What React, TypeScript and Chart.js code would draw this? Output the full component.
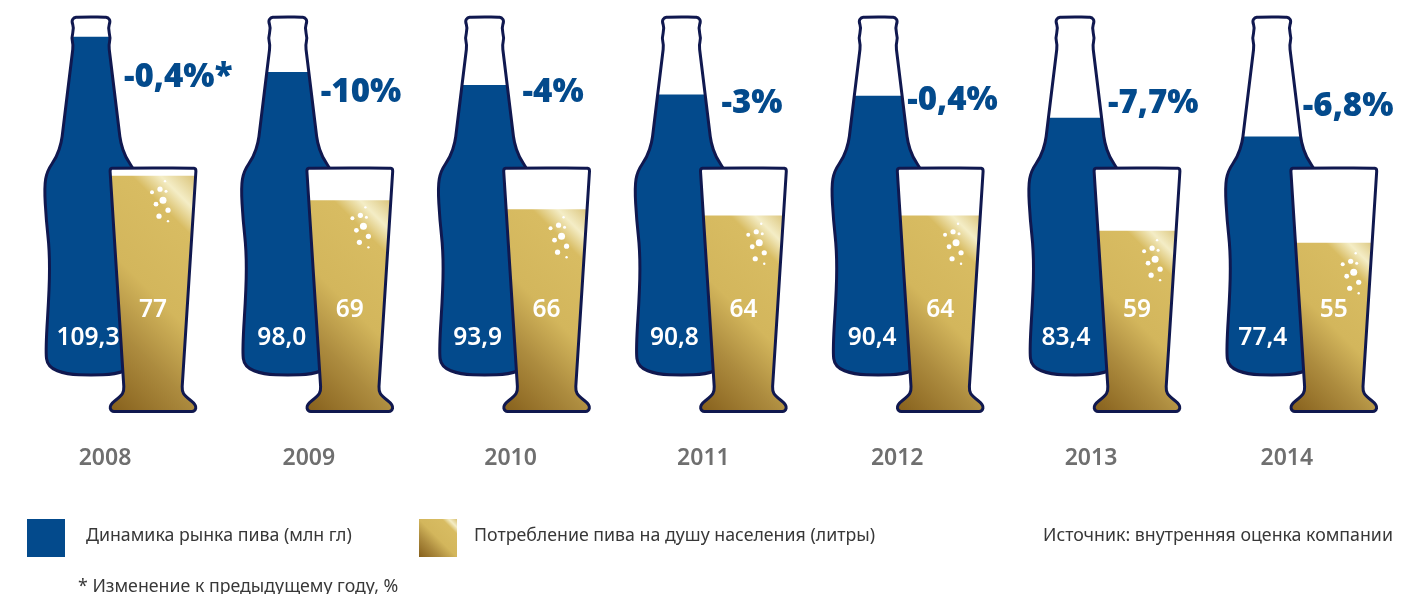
import React, { useEffect, useRef } from "react";
import { Chart, registerables } from "chart.js";

Chart.register(...registerables);

// Market and consumption figures by year
const years = ["2008", "2009", "2010", "2011", "2012", "2013", "2014"];
const marketVolume = [109.3, 98.0, 93.9, 90.8, 90.4, 83.4, 77.4];
const perCapita = [77, 69, 66, 64, 64, 59, 55];
const yearlyChange = ["-0,4%*", "-10%", "-4%", "-3%", "-0,4%", "-7,7%", "-6,8%"];

const marketLabel = "Динамика рынка пива (млн гл)";
const perCapitaLabel = "Потребление пива на душу населения (литры)";
const sourceNote = "Источник: внутренняя оценка компании";
const footNote = "* Изменение к предыдущему году, %";

// Per-column placement tweaks for the annotations
const yearNudge = [-17, -10, -5, -9, -12, -15, -16];
const marketLabelNudge = [-3, -6, -7, -7, -6, -9, -9];
const changeDx = [2, 2, 7, 9, -2, 2, 0];
const changeY = [78, 93, 93, 104, 101, 104, 107];

const FONT = '"Noto Sans", sans-serif';
const BLUE = "#034a8c";
const OUTLINE = "#10184f";
const BOTTLE_SHIFT = -31;
const GLASS_SHIFT = 31;

type P = [number, number];

// Half outlines, from the top centre to the bottom centre, mirrored around each column
const bottleHalf: P[] = [
  [0, 17], [-13, 17], [-17, 17.5], [-19.5, 21], [-17, 28], [-19.5, 38], [-17.7, 45], [-18.8, 54],
  [-28.2, 131], [-29.5, 142], [-34.3, 157], [-44, 171], [-46.7, 187], [-44.8, 220], [-41.5, 250],
  [-41.5, 287], [-45.5, 350], [-43.5, 367], [-24, 374.5], [0, 375],
];
const glassHalf: P[] = [
  [0, 168], [-39, 168], [-43, 168.5], [-42.8, 174], [-29.4, 382], [-29, 391], [-32, 396],
  [-43.5, 405], [-42, 411.5], [-36, 411.5], [0, 411.5],
];
const bubbles: [number, number, number][] = [
  [12, 5, 1.2], [7, 13, 2.6], [-1, 16, 2], [13, 15, 1.5], [10, 24, 3.5], [3, 28, 2.4], [15, 34, 2.6], [6, 40, 2.6], [15, 45, 1.2],
];

function tracePath(ctx: CanvasRenderingContext2D, half: P[], cx: number) {
  const pts: P[] = [...half, ...half.slice(0, -1).reverse().map(([x, y]) => [-x, y] as P)];
  ctx.moveTo(cx + pts[0][0], pts[0][1]);
  for (let i = 1; i < pts.length - 1; i++) {
    const mx = (pts[i][0] + pts[i + 1][0]) / 2;
    const my = (pts[i][1] + pts[i + 1][1]) / 2;
    ctx.quadraticCurveTo(cx + pts[i][0], pts[i][1], cx + mx, my);
  }
  ctx.lineTo(cx + pts[pts.length - 1][0], pts[pts.length - 1][1]);
  ctx.closePath();
}

function goldGradient(ctx: CanvasRenderingContext2D, x0: number, y0: number, x1: number, y1: number) {
  // The gradient runs along the diagonal so the pale streak falls from upper left to lower right
  const w = x1 - x0;
  const h = y0 - y1;
  const k = (w + h) / 2;
  const g = ctx.createLinearGradient(x0, y0, x0 + k, y0 - k);
  g.addColorStop(0, "#86601c");
  g.addColorStop(0.28, "#ad8c3f");
  g.addColorStop(0.5, "#d3b65c");
  g.addColorStop(0.8, "#d8bc62");
  g.addColorStop(0.89, "#f4edc6");
  g.addColorStop(1, "#d9c277");
  return g;
}

const bottleGlassPlugin = {
  id: "bottleGlass",
  beforeDatasetDraw(chart: any, args: any) {
    const { ctx } = chart;
    const meta = args.meta;
    const half = args.index === 0 ? bottleHalf : glassHalf;
    const shift = args.index === 0 ? BOTTLE_SHIFT : GLASS_SHIFT;
    ctx.save();
    ctx.beginPath();
    meta.data.forEach((bar: any) => tracePath(ctx, half, bar.x + shift));
    ctx.fillStyle = "#ffffff";
    ctx.fill();
    ctx.clip();
  },
  afterDatasetDraw(chart: any, args: any) {
    const { ctx } = chart;
    const meta = args.meta;
    ctx.restore();
    const half = args.index === 0 ? bottleHalf : glassHalf;
    const shift = args.index === 0 ? BOTTLE_SHIFT : GLASS_SHIFT;
    if (args.index === 1) {
      // Foam bubbles drift to the right as the level drops
      ctx.fillStyle = "#ffffff";
      meta.data.forEach((bar: any, i: number) => {
        const drop = 77 - perCapita[i];
        bubbles.forEach(([dx, dy, r]) => {
          ctx.beginPath();
          ctx.arc(bar.x + shift + dx + drop * 0.45, bar.y + dy + drop * 0.23, r, 0, Math.PI * 2);
          ctx.fill();
        });
      });
    }
    ctx.strokeStyle = OUTLINE;
    ctx.lineWidth = 3;
    ctx.lineJoin = "round";
    meta.data.forEach((bar: any) => {
      ctx.beginPath();
      tracePath(ctx, half, bar.x + shift);
      ctx.stroke();
    });
  },
  beforeDraw(chart: any) {
    // Year labels sit slightly off the column centres
    const items = chart.scales.x.getLabelItems();
    if (!items.__nudged) {
      items.forEach((it: any, i: number) => {
        it.options.translation[0] += yearNudge[i];
      });
      items.__nudged = true;
    }
  },
  afterDatasetsDraw(chart: any) {
    const { ctx } = chart;
    const bottleBars = chart.getDatasetMeta(0).data;
    const glassBars = chart.getDatasetMeta(1).data;
    ctx.save();
    ctx.textBaseline = "middle";
    ctx.textAlign = "center";
    ctx.fillStyle = "#ffffff";
    ctx.font = `600 24.5px ${FONT}`;
    bottleBars.forEach((bar: any, i: number) => {
      ctx.fillText(marketVolume[i].toFixed(1).replace(".", ","), bar.x + BOTTLE_SHIFT + marketLabelNudge[i], 338);
      ctx.fillText(String(perCapita[i]), glassBars[i].x + GLASS_SHIFT, 310);
    });
    ctx.textAlign = "left";
    ctx.fillStyle = BLUE;
    ctx.font = `900 33px ${FONT}`;
    bottleBars.forEach((bar: any, i: number) => {
      ctx.fillText(yearlyChange[i], bar.x + changeDx[i], changeY[i]);
    });

    // Legend swatches and captions
    ctx.fillStyle = BLUE;
    ctx.fillRect(27, 519, 38, 38);
    ctx.fillStyle = goldGradient(ctx, 419, 557, 457, 519);
    ctx.fillRect(419, 519, 38, 38);
    ctx.fillStyle = "#383838";
    ctx.font = `400 17.75px ${FONT}`;
    ctx.fillText(chart.data.datasets[0].label, 86, 535.5);
    ctx.fillText(chart.data.datasets[1].label, 474, 535.5);
    ctx.fillText(sourceNote, 1043, 535.5);
    ctx.fillText(footNote, 78, 586.5);
    ctx.restore();
  },
};

export default function App() {
  const ref = useRef<HTMLCanvasElement | null>(null);

  useEffect(() => {
    const canvas = ref.current;
    if (!canvas) return;
    const chart = new Chart(canvas, {
      type: "bar",
      plugins: [bottleGlassPlugin],
      data: {
        labels: years,
        datasets: [
          {
            label: marketLabel,
            data: marketVolume,
            yAxisID: "yMarket",
            backgroundColor: BLUE,
            order: 2,
            grouped: false,
            barPercentage: 1,
            categoryPercentage: 1,
          },
          {
            label: perCapitaLabel,
            data: perCapita,
            yAxisID: "yCapita",
            order: 1,
            grouped: false,
            barPercentage: 1,
            categoryPercentage: 1,
            backgroundColor: (c: any) => {
              const { chart: ch, parsed, dataIndex } = c;
              if (!ch.chartArea || !parsed) return "#d3b65c";
              const cx = ch.scales.x.getPixelForValue(dataIndex) + GLASS_SHIFT;
              const top = ch.scales.yCapita.getPixelForValue(parsed.y);
              const bottom = ch.scales.yCapita.getPixelForValue(0);
              return goldGradient(ch.ctx, cx - 43, bottom, cx + 43, top);
            },
          },
        ],
      },
      options: {
        responsive: false,
        animation: false,
        layout: { padding: { left: 23.6, right: 3.8, top: 0, bottom: 87.6 } },
        plugins: { legend: { display: false }, tooltip: { enabled: false } },
        scales: {
          x: {
            grid: { display: false, drawTicks: false },
            border: { display: false },
            ticks: {
              padding: 34,
              color: "#6f6f6f",
              autoSkip: false,
              maxRotation: 0,
              font: { family: FONT, size: 23, weight: "600" },
            },
          },
          yMarket: { display: false, min: -10, max: 121.1 },
          yCapita: { display: false, min: 0, max: 134.8 },
        },
      },
    } as any);
    return () => chart.destroy();
  }, []);

  return (
    <div style={{ position: "absolute", left: 0, top: 0, width: 1405, height: 594, background: "#fff" }}>
      <canvas ref={ref} width={1405} height={594} style={{ display: "block" }} />
    </div>
  );
}
